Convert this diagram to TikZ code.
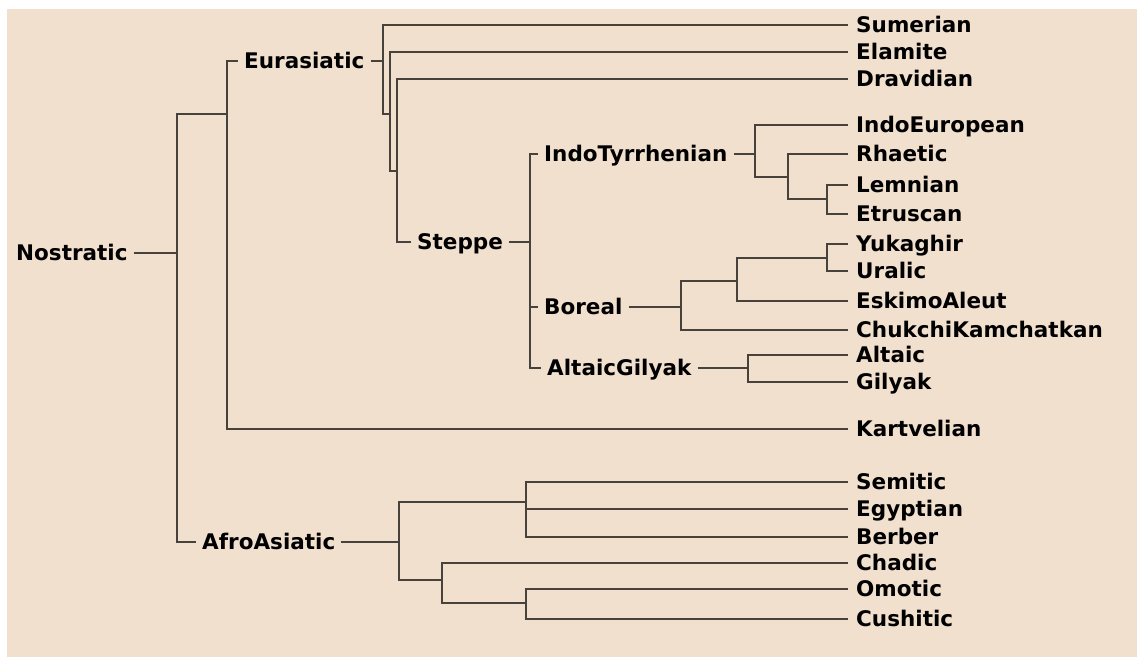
\documentclass[tikz,border=0pt]{standalone}
\usepackage{fontspec}
\setmainfont{DejaVu Sans}
\definecolor{bgbeige}{RGB}{241,224,206}
\definecolor{treeline}{RGB}{72,66,60}
\begin{document}
\begin{tikzpicture}[x=1pt,y=-1pt,
  tree/.style={draw=treeline,line width=2pt,line join=miter},
  lab/.style={anchor=west,inner ysep=0pt,inner xsep=6pt,text height=15.7pt,text depth=0pt,
    font=\fontsize{21.5}{24}\selectfont\bfseries,text=black},
  leaf/.style={lab,inner xsep=8pt}]
\useasboundingbox (0,0) rectangle (1137,657);
\fill[white] (0,0) rectangle (1137,657);
\fill[bgbeige] (7,9) rectangle (1137,657);
% leaves
\node[leaf] (sum) at (848,25) {Sumerian};
\node[leaf] (ela) at (848,52) {Elamite};
\node[leaf] (dra) at (848,79) {Dravidian};
\node[leaf] (ie)  at (848,125) {IndoEuropean};
\node[leaf] (rha) at (848,154) {Rhaetic};
\node[leaf] (lem) at (848,185) {Lemnian};
\node[leaf] (etr) at (848,214) {Etruscan};
\node[leaf] (yuk) at (848,244) {Yukaghir};
\node[leaf] (ura) at (848,271) {Uralic};
\node[leaf] (esk) at (848,301) {EskimoAleut};
\node[leaf] (chu) at (848,330) {ChukchiKamchatkan};
\node[leaf] (alt) at (848,355) {Altaic};
\node[leaf] (gil) at (848,382) {Gilyak};
\node[leaf] (kar) at (848,429) {Kartvelian};
\node[leaf] (sem) at (848,482) {Semitic};
\node[leaf] (egy) at (848,509) {Egyptian};
\node[leaf] (ber) at (848,537) {Berber};
\node[leaf] (cha) at (848,563) {Chadic};
\node[leaf] (omo) at (848,589) {Omotic};
\node[leaf] (cus) at (848,619) {Cushitic};
% internal labels
\node[lab] (nos) at (10,253) {Nostratic};
\node[lab] (eur) at (238,61) {Eurasiatic};
\node[lab] (ste) at (411,242) {Steppe};
\node[lab] (ito) at (538,154) {IndoTyrrhenian};
\node[lab] (bor) at (538,307) {Boreal};
\node[lab] (ag)  at (541,368) {AltaicGilyak};
\node[lab] (afr) at (196,542) {AfroAsiatic};
% junctions
\coordinate (nosV) at (177,253);
\coordinate (eurV) at (227,114);
\coordinate (e1) at (383,61);
\coordinate (e2) at (390,114);
\coordinate (e3) at (397,171);
\coordinate (s1) at (530,242);
\coordinate (i1) at (755,154);
\coordinate (i2) at (788,177);
\coordinate (i3) at (827,199);
\coordinate (b1) at (681,307);
\coordinate (b2) at (737,281);
\coordinate (b3) at (827,258);
\coordinate (g1) at (748,368);
\coordinate (f1) at (399,542);
\coordinate (f2) at (526,502);
\coordinate (f3) at (442,580);
\coordinate (f4) at (526,603);
% Nostratic
\draw[tree] (nos.east) -- (nosV);
\draw[tree] (eurV) -| (nosV) |- (afr.west);
\draw[tree] (eur.west) -| (eurV) |- (kar.west);
% Eurasiatic
\draw[tree] (eur.east) -- (e1);
\draw[tree] (sum.west) -| (e1) |- (e2);
\draw[tree] (ela.west) -| (e2) |- (e3);
\draw[tree] (dra.west) -| (e3) |- (ste.west);
% Steppe
\draw[tree] (ste.east) -- (s1);
\draw[tree] (ito.west) -| (s1) |- (ag.west);
\draw[tree] (s1) |- (bor.west);
% IndoTyrrhenian
\draw[tree] (ito.east) -- (i1);
\draw[tree] (ie.west) -| (i1) |- (i2);
\draw[tree] (rha.west) -| (i2) |- (i3);
\draw[tree] (lem.west) -| (i3) |- (etr.west);
% Boreal
\draw[tree] (bor.east) -- (b1);
\draw[tree] (b2) -| (b1) |- (chu.west);
\draw[tree] (b3) -| (b2) |- (esk.west);
\draw[tree] (yuk.west) -| (b3) |- (ura.west);
% AltaicGilyak
\draw[tree] (ag.east) -- (g1);
\draw[tree] (alt.west) -| (g1) |- (gil.west);
% AfroAsiatic
\draw[tree] (afr.east) -- (f1);
\draw[tree] (f2) -| (f1) |- (f3);
\draw[tree] (sem.west) -| (f2) |- (ber.west);
\draw[tree] (egy.west) -- (egy.west -| f2);
\draw[tree] (cha.west) -| (f3) |- (f4);
\draw[tree] (omo.west) -| (f4) |- (cus.west);
\end{tikzpicture}
\end{document}
